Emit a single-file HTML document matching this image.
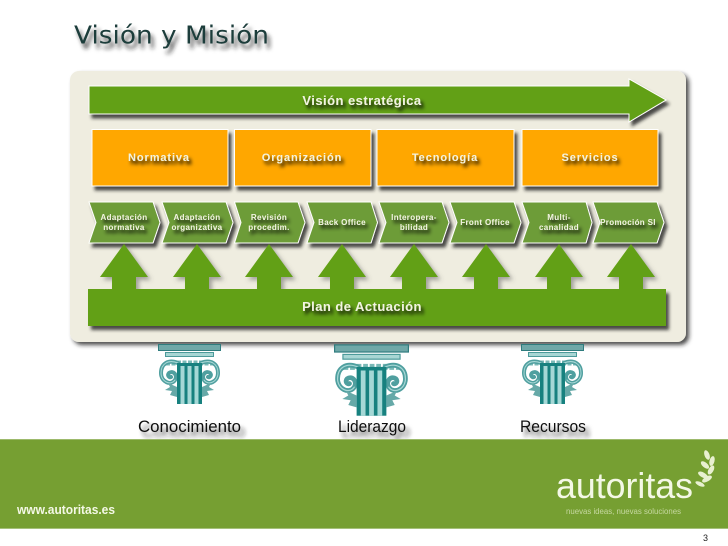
<!DOCTYPE html>
<html lang="es"><head><meta charset="utf-8"><title>Visión y Misión</title>
<style>html,body{margin:0;padding:0;background:#fff}svg{display:block}
text{font-family:"Liberation Sans",sans-serif}
.w{fill:#f2f3e2;font-weight:bold;text-anchor:middle;filter:url(#ts)}
.c{font-size:8px;letter-spacing:.35px}
.o{font-size:11px;letter-spacing:.9px}
.g{font-size:13px;letter-spacing:.45px}
.l{fill:#111;font-size:17px;filter:url(#ls)}
</style></head><body>
<svg width="728" height="546" viewBox="0 0 728 546" xmlns="http://www.w3.org/2000/svg">
<defs>
<filter id="ps" x="-5%" y="-5%" width="110%" height="110%"><feDropShadow dx="3" dy="3" stdDeviation="2" flood-color="#222" flood-opacity=".8"/></filter>
<filter id="bs" x="-10%" y="-20%" width="120%" height="140%"><feDropShadow dx="3" dy="4" stdDeviation="1.500" flood-color="#222" flood-opacity=".8"/></filter>
<filter id="as" x="-20%" y="-20%" width="150%" height="150%"><feDropShadow dx="3" dy="3" stdDeviation="2" flood-color="#555" flood-opacity=".5"/></filter>
<filter id="ts" x="-20%" y="-80%" width="150%" height="300%"><feDropShadow dx="2.500" dy="3.500" stdDeviation="1.800" flood-color="#111" flood-opacity=".95"/></filter>
<filter id="ls" x="-20%" y="-80%" width="150%" height="300%"><feDropShadow dx="4" dy="5" stdDeviation="2.200" flood-color="#222" flood-opacity=".75"/></filter>
<filter id="tt" x="-10%" y="-60%" width="120%" height="260%"><feDropShadow dx="3" dy="5" stdDeviation="2.200" flood-color="#222" flood-opacity=".8"/></filter>
<symbol id="pillar" viewBox="0 0 63 60" overflow="visible">
<rect x=".5" y=".5" width="62" height="6" fill="#6fa8a8" stroke="#2f7c7e"/>
<rect x="7.5" y="8.5" width="48" height="4" fill="#a8d6d4" stroke="#4c9a9a"/>
<path d="M8 19H55" stroke="#7ab9b7" stroke-width="5" stroke-dasharray="4 1.500"/>
<g fill="none" stroke-linecap="round">
<g stroke="#4f9f9f" stroke-width="4">
<path d="M20 19C10 15 3 20 3 29 3 38 13 42 17 36 20 31 15 26 11 29 9 31 11 34 13 33"/>
<path d="M43 19C53 15 60 20 60 29 60 38 50 42 46 36 43 31 48 26 52 29 54 31 52 34 50 33"/>
</g>
<g stroke="#a8d8d6" stroke-width="1">
<path d="M20 19C10 15 3 20 3 29 3 38 13 42 17 36"/>
<path d="M43 19C53 15 60 20 60 29 60 38 50 42 46 36"/>
</g>
</g>
<rect x="19" y="19" width="25" height="41" fill="#17817f"/>
<g fill="#a5d8d6"><rect x="22.500" y="22" width="4" height="38"/><rect x="29.500" y="22" width="4" height="38"/><rect x="36.500" y="22" width="4" height="38"/></g>
<path d="M19 53 12 51 14 47 7 46 12 43 10 39 19 43ZM44 53 51 51 49 47 56 46 51 43 53 39 44 43Z" fill="#66a9a8"/>
</symbol>
</defs>

<text x="74" y="43.500" textLength="195" lengthAdjust="spacingAndGlyphs" style="font-family:'DejaVu Sans',sans-serif;font-size:25px;fill:#1d3d3b;filter:url(#tt)">Visión y Misión</text>

<rect x="70" y="71" width="616" height="271" rx="9" fill="#efede0" filter="url(#ps)"/>

<polygon points="89,86 629,86 629,79 666,100 629,122 629,114 89,114" fill="#62a012" stroke="#fff" stroke-width="1" filter="url(#bs)"/>
<text class="w g" x="362" y="105">Visión estratégica</text>

<g fill="#ffa700" stroke="#fff" stroke-width="1" filter="url(#bs)">
<rect x="92" y="129.500" width="136" height="56.500"/>
<rect x="234.500" y="129.500" width="136.500" height="56.500"/>
<rect x="377" y="129.500" width="137" height="56.500"/>
<rect x="522" y="129.500" width="136" height="56.500"/>
</g>
<text class="w o" x="159" y="161">Normativa</text>
<text class="w o" x="302" y="161">Organización</text>
<text class="w o" x="445" y="161">Tecnología</text>
<text class="w o" x="590" y="161">Servicios</text>

<g fill="#6d9c38" stroke="#fff" stroke-width="1" filter="url(#bs)">
<polygon points="89,202 153,202 160,222.500 153,243 89,243 96,222.500"/>
<polygon points="162,202 226,202 233,222.500 226,243 162,243 169,222.500"/>
<polygon points="234.500,202 298,202 305,222.500 298,243 234.500,243 241,222.500"/>
<polygon points="307,202 371,202 377.500,222.500 371,243 307,243 314,222.500"/>
<polygon points="379,202 442,202 449,222.500 442,243 379,243 386,222.500"/>
<polygon points="450,202 514,202 521,222.500 514,243 450,243 457,222.500"/>
<polygon points="522,202 586,202 592,222.500 586,243 522,243 529,222.500"/>
<polygon points="593,202 657,202 664,222.500 657,243 593,243 600,222.500"/>
</g>
<text class="w c" x="124" y="220">Adaptación</text><text class="w c" x="124" y="230">normativa</text>
<text class="w c" x="197" y="220">Adaptación</text><text class="w c" x="197" y="230">organizativa</text>
<text class="w c" x="269" y="220">Revisión</text><text class="w c" x="269" y="230">procedim.</text>
<text class="w c" x="342" y="225">Back Office</text>
<text class="w c" x="414" y="220">Interopera-</text><text class="w c" x="414" y="230">bilidad</text>
<text class="w c" x="485" y="225">Front Office</text>
<text class="w c" x="559" y="220">Multi-</text><text class="w c" x="559" y="230">canalidad</text>
<text class="w c" x="628" y="225">Promoción SI</text>

<g fill="#62a012" filter="url(#as)">
<path d="M124 244 148 277 136 277 136 290 112 290 112 277 100 277Z"/>
<path d="M197 244 221 277 209 277 209 290 185 290 185 277 173 277Z"/>
<path d="M269 244 293 277 281 277 281 290 257 290 257 277 245 277Z"/>
<path d="M342 244 366 277 354 277 354 290 330 290 330 277 318 277Z"/>
<path d="M414 244 438 277 426 277 426 290 402 290 402 277 390 277Z"/>
<path d="M486 244 510 277 498 277 498 290 474 290 474 277 462 277Z"/>
<path d="M559 244 583 277 571 277 571 290 547 290 547 277 535 277Z"/>
<path d="M631 244 655 277 643 277 643 290 619 290 619 277 607 277Z"/>
</g>
<rect x="88" y="289" width="578" height="37" fill="#62a012" filter="url(#bs)"/>
<text class="w g" x="362" y="311">Plan de Actuación</text>

<use href="#pillar" x="158" y="344" width="63" height="60"/>
<use href="#pillar" x="334" y="344" width="75" height="72"/>
<use href="#pillar" x="521" y="344" width="63" height="60"/>

<text class="l" x="138" y="432" textLength="103" lengthAdjust="spacingAndGlyphs">Conocimiento</text>
<text class="l" x="338" y="432" textLength="68" lengthAdjust="spacingAndGlyphs">Liderazgo</text>
<text class="l" x="520" y="432" textLength="66" lengthAdjust="spacingAndGlyphs">Recursos</text>

<rect x="0" y="439" width="728" height="90" fill="#769f32"/>
<rect x="0" y="439" width="728" height="1" fill="#9dba6c"/>
<rect x="0" y="528" width="728" height="1" fill="#a5c07a"/>
<text x="17" y="514" textLength="98" lengthAdjust="spacingAndGlyphs" style="font-size:13px;font-weight:bold;fill:#f4f8e6">www.autoritas.es</text>
<text x="556" y="498" textLength="137" lengthAdjust="spacingAndGlyphs" style="font-size:36px;fill:#f4f8e6">autoritas</text>
<text x="566" y="514" textLength="115" lengthAdjust="spacingAndGlyphs" style="font-size:8px;fill:#c6d8a0">nuevas ideas, nuevas soluciones</text>
<g fill="#e8f0d0">
<ellipse cx="707" cy="455" rx="2.500" ry="5" transform="rotate(-20 707 455)"/>
<ellipse cx="712" cy="461" rx="2.500" ry="5" transform="rotate(15 712 461)"/>
<ellipse cx="705" cy="465" rx="2.500" ry="5" transform="rotate(-50 705 465)"/>
<ellipse cx="711" cy="470" rx="2.500" ry="5" transform="rotate(30 711 470)"/>
<ellipse cx="703" cy="475" rx="2.500" ry="5.500" transform="rotate(-60 703 475)"/>
<ellipse cx="707" cy="479" rx="2.500" ry="5.500" transform="rotate(60 707 479)"/>
<ellipse cx="700" cy="484" rx="2" ry="5" transform="rotate(-65 700 484)"/>
</g>
<text x="703" y="541" style="font-size:9px;fill:#222">3</text>
</svg>
</body></html>
